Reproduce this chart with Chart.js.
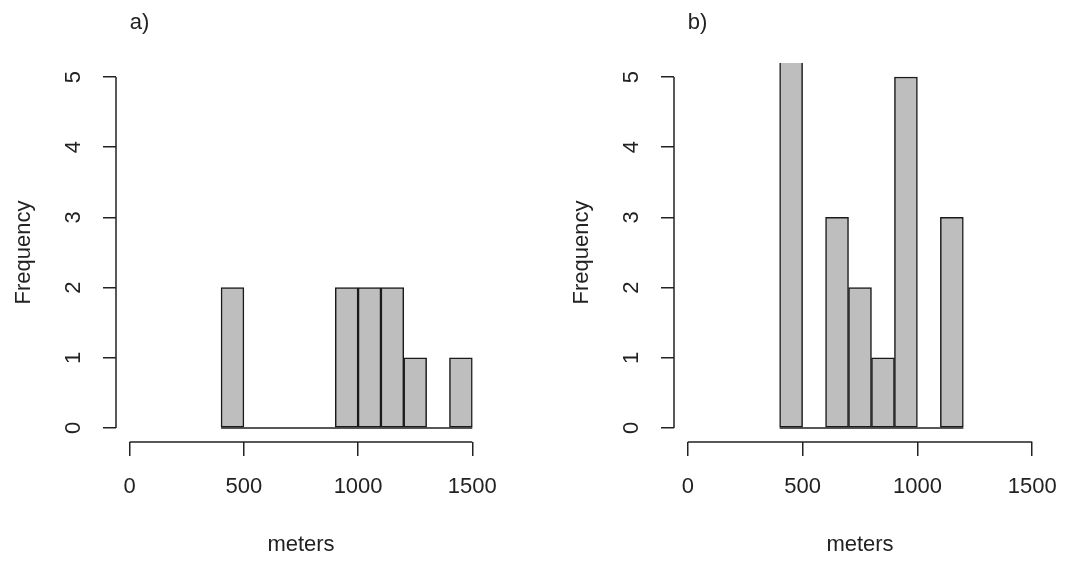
<!DOCTYPE html>
<html>
<head>
<meta charset="utf-8">
<script src="https://cdn.jsdelivr.net/npm/chart.js@4.4.0/dist/chart.umd.min.js"></script>
<style>
  html, body { margin: 0; padding: 0; background: #fff; }
  #wrap { position: relative; width: 1077px; height: 561px; }
  .panel { position: absolute; top: 0; height: 561px; }
  #panelA { left: 0; width: 538px; }
  #panelB { left: 558px; width: 519px; }
</style>
</head>
<body>
<div id="wrap">
  <div class="panel" id="panelA"><canvas id="histA"></canvas></div>
  <div class="panel" id="panelB"><canvas id="histB"></canvas></div>
</div>
<script>
// bin edges (meters) and counts per bin
const breaksA = [400, 500, 600, 700, 800, 900, 1000, 1100, 1200, 1300, 1400, 1500];
const countsA = [2, 0, 0, 0, 0, 2, 2, 2, 1, 0, 1];
const breaksB = [400, 500, 600, 700, 800, 900, 1000, 1100, 1200];
const countsB = [6, 0, 3, 2, 1, 5, 0, 3]; // first bar runs off the top
const xTicks = [0, 500, 1000, 1500];
const yTicks = [0, 1, 2, 3, 4, 5];

const ink = "#222";
const font = { family: "'Liberation Sans', Arial, sans-serif", size: 22 };

function makeHist(canvasId, label, breaks, counts, rightPad) {
  const points = counts.map((c, i) => ({ x: (breaks[i] + breaks[i + 1]) / 2, y: c }));

  // R style axes: lines only span the first..last tick, plus zero-count bins
  const rAxes = {
    id: "rAxes",
    afterDatasetsDraw(chart) {
      const { ctx, chartArea, scales: { x, y } } = chart;
      ctx.save();
      ctx.strokeStyle = ink;
      ctx.lineWidth = 1.5;
      ctx.beginPath();
      // baseline under the bins
      const y0 = y.getPixelForValue(0);
      ctx.moveTo(x.getPixelForValue(breaks[0]), y0);
      ctx.lineTo(x.getPixelForValue(breaks[breaks.length - 1]), y0);
      // y axis line
      ctx.moveTo(chartArea.left, y.getPixelForValue(yTicks[0]));
      ctx.lineTo(chartArea.left, y.getPixelForValue(yTicks[yTicks.length - 1]));
      // x axis line
      ctx.moveTo(x.getPixelForValue(xTicks[0]), chartArea.bottom);
      ctx.lineTo(x.getPixelForValue(xTicks[xTicks.length - 1]), chartArea.bottom);
      ctx.stroke();

      // panel label
      ctx.fillStyle = ink;
      ctx.font = `${font.size}px ${font.family}`;
      ctx.textAlign = "left";
      ctx.textBaseline = "middle";
      ctx.fillText(label, x.getPixelForValue(0), 23);
      ctx.restore();
    },
  };

  return new Chart(document.getElementById(canvasId), {
    type: "bar",
    data: {
      datasets: [
        {
          data: points,
          backgroundColor: "#bebebe",
          borderColor: "#1a1a1a",
          borderWidth: 1.5,
          borderSkipped: false,
          barPercentage: 1,
          categoryPercentage: 1,
        },
      ],
    },
    options: {
      responsive: true,
      maintainAspectRatio: false,
      animation: false,
      layout: { padding: { top: 63, right: rightPad, bottom: 0, left: 0 } },
      plugins: {
        legend: { display: false },
        tooltip: { enabled: false },
      },
      scales: {
        x: {
          type: "linear",
          min: -60,
          max: 1560,
          offset: false,
          afterBuildTicks: (s) => { s.ticks = xTicks.map((v) => ({ value: v })); },
          afterFit: (s) => { s.height = 119; },
          border: { display: false },
          grid: { offset: false, drawOnChartArea: false, drawTicks: true, tickLength: 14, color: ink, lineWidth: 1.5 },
          ticks: { padding: 18, font: font, color: ink, maxRotation: 0, autoSkip: false, callback: (v) => String(v) },
          title: { display: true, text: "meters", font: font, color: ink, padding: { top: 0, bottom: 3 } },
        },
        y: {
          min: -0.2,
          max: 5.2,
          afterBuildTicks: (s) => { s.ticks = yTicks.map((v) => ({ value: v })); },
          afterFit: (s) => { s.width = 116; },
          border: { display: false },
          grid: { drawOnChartArea: false, drawTicks: true, tickLength: 13, color: ink, lineWidth: 1.5 },
          ticks: { minRotation: 90, maxRotation: 90, crossAlign: "center", padding: 23, font: font, color: ink, callback: (v) => String(v) },
          title: { display: true, text: "Frequency", font: font, color: ink, padding: { top: 11, bottom: 0 } },
        },
      },
    },
    plugins: [rAxes],
  });
}

makeHist("histA", "a)", breaksA, countsA, 52);
makeHist("histB", "b)", breaksB, countsB, 31);
</script>
</body>
</html>
